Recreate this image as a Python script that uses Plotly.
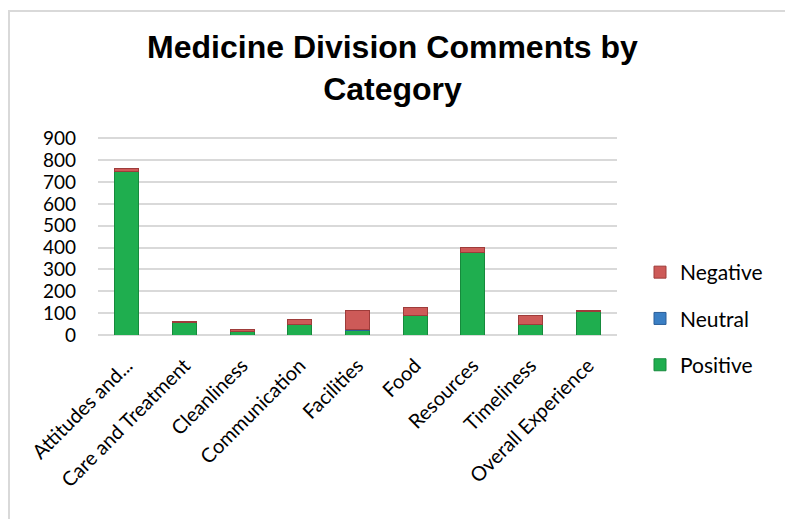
import plotly.graph_objects as go

categories = ["Attitudes and...", "Care and Treatment", "Cleanliness", "Communication",
              "Facilities", "Food", "Resources", "Timeliness", "Overall Experience"]
positive = [750, 59, 18, 46, 22, 91, 377, 46, 108]
neutral = [0, 0, 0, 0, 4, 0, 0, 0, 0]
negative = [12, 2, 8, 26, 88, 34, 22, 45, 2]
y_ticks = [0, 100, 200, 300, 400, 500, 600, 700, 800, 900]

W, H = 785, 519
L, R, T, B = 98, 168, 134, 184
pw, ph = W - L - R, H - T - B


def px_x(p):
    return (p - L) / pw


def px_y(p):
    return (H - B - p) / ph


fig = go.Figure()
fig.add_trace(go.Bar(name="Positive", x=categories, y=positive, legendgroup="pos", legendrank=3,
                     marker=dict(color="#1fae4f", line=dict(color="#168a3c", width=1))))
fig.add_trace(go.Bar(name="Neutral", x=categories, y=neutral, legendgroup="neu", legendrank=2,
                     marker=dict(color="#3a7fc4", line=dict(color="#2a5f99", width=1))))
fig.add_trace(go.Bar(name="Negative", x=categories, y=negative, legendgroup="neg", legendrank=1,
                     marker=dict(color="#cd5a58", line=dict(color="#9e3c3a", width=1))))

# outer chart frame (left and top edges)
fig.add_shape(type="path", xref="paper", yref="paper",
              path=f"M {px_x(9)} {px_y(530)} L {px_x(9)} {px_y(11)} L {px_x(800)} {px_y(11)}",
              line=dict(color="#d9d9d9", width=2))

fig.update_layout(
    width=W, height=H,
    margin=dict(l=L, r=R, t=T, b=B, pad=0),
    barmode="stack",
    bargap=0.58,
    paper_bgcolor="white", plot_bgcolor="white",
    title=dict(text="<b>Medicine Division Comments by<br>Category</b>",
               font=dict(family="Liberation Sans, Arial", size=32, color="black"),
               x=0.5, xanchor="center", xref="container",
               y=1 - 58 / H, yanchor="top", yref="container"),
    font=dict(family="Lato, Open Sans, sans-serif", color="black"),
    legend=dict(traceorder="grouped", x=px_x(640), xanchor="left",
                y=px_y(252), yanchor="top",
                font=dict(size=21, family="Lato"), itemwidth=30,
                tracegroupgap=16, bgcolor="rgba(0,0,0,0)"),
    xaxis=dict(tickangle=-45, tickfont=dict(size=20, family="Lato"),
               showline=False, showgrid=False, ticks="", ticklabelstandoff=14),
    yaxis=dict(range=[0, 920], tickvals=y_ticks, showgrid=True,
               gridcolor="#d9d9d9", gridwidth=1.5, zeroline=True,
               zerolinecolor="#d9d9d9", zerolinewidth=1.5,
               tickfont=dict(size=19, family="Lato"), ticklabelstandoff=21),
)

fig.write_html("out.html")
